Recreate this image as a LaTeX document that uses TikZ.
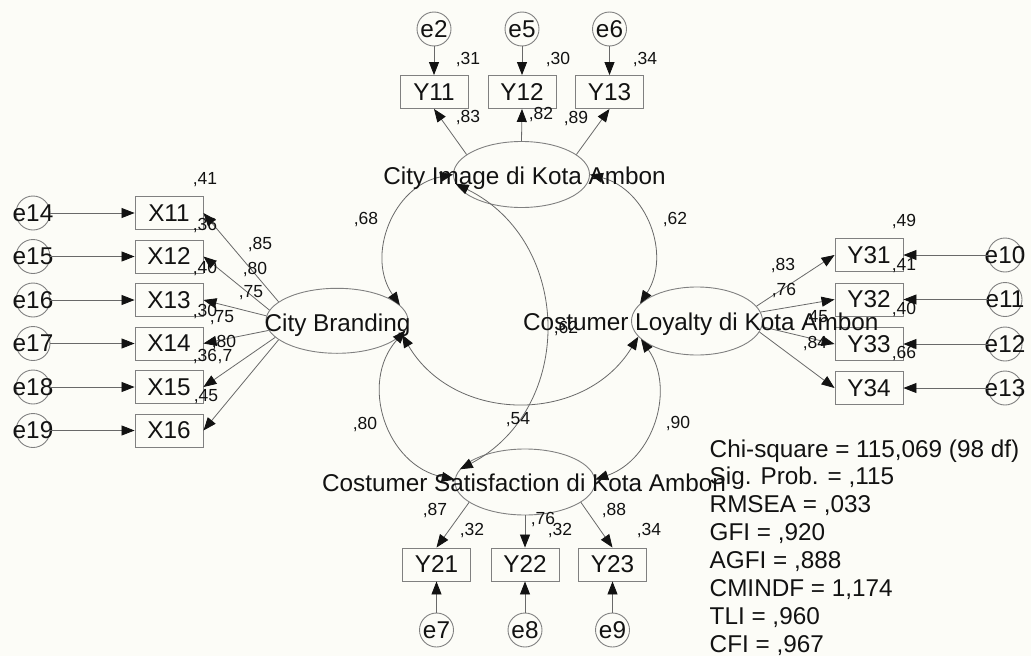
\documentclass[tikz,border=0pt]{standalone}
\usepackage{fontspec}
\setmainfont{Liberation Sans}
\usetikzlibrary{arrows.meta,shapes.geometric}
\definecolor{paper}{RGB}{252,252,247}
\definecolor{edge}{RGB}{128,128,128}
\definecolor{wire}{RGB}{105,105,105}
\definecolor{ink}{RGB}{18,18,18}
\tikzset{
  big/.style={font=\fontsize{24.3}{28}\selectfont, text=ink},
  num/.style={font=\fontsize{17.5}{20}\selectfont, text=ink, inner sep=0pt},
  obs/.style={draw=edge, line width=0.9pt, minimum width=68pt, minimum height=33pt, inner sep=0pt, big},
  lat/.style={draw=edge, line width=0.9pt, ellipse, inner sep=0pt},
  err/.style={draw=edge, line width=0.9pt, circle, minimum size=34pt, inner sep=0pt},
  etxt/.style={big, inner sep=0pt},
  tip/.tip={Triangle[length=13pt,width=10pt,color=ink]},
  path1/.style={draw=wire, line width=0.8pt, -tip},
  cov/.style={draw=wire, line width=0.8pt, tip-tip},
}
\begin{document}
\begin{tikzpicture}[x=1pt,y=1pt]
\fill[paper] (0,0) rectangle (1031,-656);
\useasboundingbox (0,0) rectangle (1031,-656);

% latent variables
\node[lat, minimum width=136pt, minimum height=66pt] (ci) at (521.5,-174.5) {};
\node[lat, minimum width=142pt, minimum height=65pt] (cb) at (337,-320.8) {};
\node[lat, minimum width=131pt, minimum height=68pt] (cl) at (697,-321) {};
\node[lat, minimum width=140pt, minimum height=66pt] (cs) at (525,-482) {};

% observed indicators
\node[obs] (x11) at (169,-213) {X11};
\node[obs] (x12) at (169,-256.5) {X12};
\node[obs] (x13) at (169,-300) {X13};
\node[obs] (x14) at (169,-343.5) {X14};
\node[obs] (x15) at (169,-387) {X15};
\node[obs] (x16) at (169,-430.5) {X16};

\node[obs] (y11) at (434,-92) {Y11};
\node[obs] (y12) at (522,-92) {Y12};
\node[obs] (y13) at (609.5,-92) {Y13};

\node[obs] (y31) at (869,-255) {Y31};
\node[obs] (y32) at (869,-299.5) {Y32};
\node[obs] (y33) at (869,-344) {Y33};
\node[obs] (y34) at (869,-388) {Y34};

\node[obs] (y21) at (436.5,-564.5) {Y21};
\node[obs] (y22) at (525,-564.5) {Y22};
\node[obs] (y23) at (612.5,-564.5) {Y23};

% error terms
\node[err] (e14) at (33,-213) {};   \node[etxt] (e14t) at (e14) {e14};
\node[err] (e15) at (33,-256.5) {}; \node[etxt] (e15t) at (e15) {e15};
\node[err] (e16) at (33,-300) {};   \node[etxt] (e16t) at (e16) {e16};
\node[err] (e17) at (33,-343.5) {}; \node[etxt] (e17t) at (e17) {e17};
\node[err] (e18) at (33,-387) {};   \node[etxt] (e18t) at (e18) {e18};
\node[err] (e19) at (33,-430.5) {}; \node[etxt] (e19t) at (e19) {e19};

\node[err] (e2) at (434,-29) {};   \node[etxt] (e2t) at (e2) {e2};
\node[err] (e5) at (522,-29) {};   \node[etxt] (e5t) at (e5) {e5};
\node[err] (e6) at (609.5,-29) {}; \node[etxt] (e6t) at (e6) {e6};

\node[err] (e10) at (1005,-255) {};   \node[etxt] (e10t) at (e10) {e10};
\node[err] (e11) at (1005,-299.5) {}; \node[etxt] (e11t) at (e11) {e11};
\node[err] (e12) at (1005,-344) {};   \node[etxt] (e12t) at (e12) {e12};
\node[err] (e13) at (1005,-388) {};   \node[etxt] (e13t) at (e13) {e13};

\node[err] (e7) at (436.5,-630) {}; \node[etxt] (e7t) at (e7) {e7};
\node[err] (e8) at (525,-630) {};   \node[etxt] (e8t) at (e8) {e8};
\node[err] (e9) at (612.5,-630) {}; \node[etxt] (e9t) at (e9) {e9};

% error paths
\draw[path1] (e14) -- (x11);
\draw[path1] (e15) -- (x12);
\draw[path1] (e16) -- (x13);
\draw[path1] (e17) -- (x14);
\draw[path1] (e18) -- (x15);
\draw[path1] (e19) -- (x16);
\draw[path1] (e2) -- (y11);
\draw[path1] (e5) -- (y12);
\draw[path1] (e6) -- (y13);
\draw[path1] (e10) -- (y31);
\draw[path1] (e11) -- (y32);
\draw[path1] (e12) -- (y33);
\draw[path1] (e13) -- (y34);
\draw[path1] (e7) -- (y21);
\draw[path1] (e8) -- (y22);
\draw[path1] (e9) -- (y23);

% loadings
\draw[path1] (cb.162) -- (x11.east);
\draw[path1] (cb.171) -- (x12.east);
\draw[path1] (cb.176) -- (x13.east);
\draw[path1] (cb.188) -- (x14.east);
\draw[path1] (cb.195) -- (x15.east);
\draw[path1] (cb.198) -- (x16.east);

\draw[path1] (ci.160) -- (y11.south);
\draw[path1] (ci.90) -- (y12.south);
\draw[path1] (ci.20) -- (y13.south);

\draw[path1] (cl.14) -- (y31.west);
\draw[path1] (cl.8) -- (y32.west);
\draw[path1] (cl.355) -- (y33.west);
\draw[path1] (cl.350) -- (y34.west);

\draw[path1] (cs.200) -- (y21.north);
\draw[path1] (cs.270) -- (y22.north);
\draw[path1] (cs.340) -- (y23.north);

% covariances
\draw[cov] (ci.180) to[bend right=57, looseness=1.10] (cb.14);
\draw[cov] (ci.0) to[bend left=54, looseness=1.08] (cl.163);
\draw[cov] (cb.352) to[bend right=60, looseness=1.14] (cs.178);
\draw[cov] (cl.198) to[bend left=53, looseness=1.06] (cs.2);
\draw[cov] (ci.188) to[bend left=63, looseness=1.17] (cs.169);
\draw[cov] (cb.348) to[bend right=59, looseness=1.12] (cl.195);

% latent names
\node[big, anchor=base] (cit) at (524.5,-184) {City Image di Kota Ambon};
\node[big, anchor=base] (cbt) at (337.5,-331.7) {City Branding};
\node[big, anchor=base] (clt) at (700.8,-330) {Costumer Loyalty di Kota Ambon};
\node[big, anchor=base] (cst) at (524,-491.5) {Costumer Satisfaction di Kota Ambon};

% estimates, left block
\node[num] (r11) at (205,-180) {,41};
\node[num] (r12) at (205,-226) {,36};
\node[num] (r13) at (205,-269) {,40};
\node[num] (r14) at (205,-312) {,30};
\node[num] (r15) at (205,-357) {,36};
\node[num] (r16) at (206,-397) {,45};
\node[num] (l11) at (260,-245) {,85};
\node[num] (l12) at (255,-270) {,80};
\node[num] (l13) at (251,-293) {,75};
\node[num] (l14) at (222,-318) {,75};
\node[num] (l15) at (224,-343) {,80};
\node[num] (l16) at (225,-357) {,7};

% estimates, top block
\node[num] (r21) at (468,-60) {,31};
\node[num] (r22) at (558,-60) {,30};
\node[num] (r23) at (645,-60) {,34};
\node[num] (l21) at (468,-118) {,83};
\node[num] (l22) at (541,-115) {,82};
\node[num] (l23) at (576,-119) {,89};

% estimates, right block
\node[num] (r31) at (904,-222) {,49};
\node[num] (r32) at (904,-266) {,41};
\node[num] (r33) at (904,-310) {,40};
\node[num] (r34) at (904,-354) {,66};
\node[num] (l31) at (783,-266) {,83};
\node[num] (l32) at (784,-291) {,76};
\node[num] (l33) at (816,-318) {,45};
\node[num] (l34) at (815,-344) {,84};

% estimates, bottom block
\node[num] (l41) at (435,-511) {,87};
\node[num] (r41) at (472,-531) {,32};
\node[num] (l42) at (543,-520) {,76};
\node[num] (r42) at (560,-531) {,32};
\node[num] (l43) at (614,-511) {,88};
\node[num] (r43) at (649,-531) {,34};

% correlations
\node[num] (c1) at (366,-220) {,68};
\node[num] (c2) at (675,-220) {,62};
\node[num] (c3) at (365,-425) {,80};
\node[num] (c4) at (518,-420) {,54};
\node[num] (c5) at (678,-424) {,90};
\node[num] (c6) at (566,-329) {,62};

% fit indices
\node[big, anchor=base west, inner sep=0pt] (s1) at (709.5,-457) {Chi-square = 115,069 (98 df)};
\node[big, anchor=base west, inner sep=0pt] (s2) at (709.5,-484.9) {Sig. Prob. = ,115};
\node[big, anchor=base west, inner sep=0pt] (s3) at (709.5,-512.8) {RMSEA = ,033};
\node[big, anchor=base west, inner sep=0pt] (s4) at (709.5,-540.7) {GFI = ,920};
\node[big, anchor=base west, inner sep=0pt] (s5) at (709.5,-568.6) {AGFI = ,888};
\node[big, anchor=base west, inner sep=0pt] (s6) at (709.5,-596.5) {CMINDF = 1,174};
\node[big, anchor=base west, inner sep=0pt] (s7) at (709.5,-624.4) {TLI = ,960};
\node[big, anchor=base west, inner sep=0pt] (s8) at (709.5,-652.3) {CFI = ,967};
\end{tikzpicture}
\end{document}
